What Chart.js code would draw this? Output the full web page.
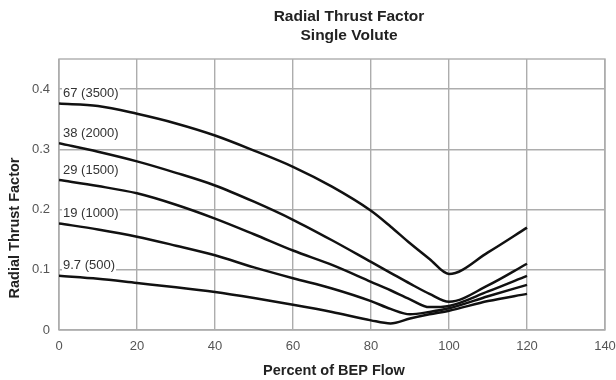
<!DOCTYPE html>
<html>
<head>
<meta charset="utf-8">
<script src="https://cdn.jsdelivr.net/npm/chart.js@4"></script>
<style>
  html, body { margin: 0; padding: 0; background: #fff; }
  #wrap { width: 616px; height: 380px; }
</style>
</head>
<body>
<div id="wrap"><canvas id="thrust-chart" width="616" height="380"></canvas></div>
<script>
// Radial thrust factor vs percent of BEP flow, single volute
const flowPct = [0, 10, 20, 30, 40, 50, 60, 70, 80, 85, 90, 95, 100, 110, 120];
const curveLabels = ['67 (3500)', '38 (2000)', '29 (1500)', '19 (1000)', '9.7 (500)'];
const thrust67 = [0.376, 0.372, 0.359, 0.343, 0.323, 0.298, 0.271, 0.238, 0.198, 0.172, 0.144, 0.118, 0.093, 0.129, 0.170];
const thrust38 = [0.310, 0.296, 0.280, 0.261, 0.240, 0.213, 0.183, 0.149, 0.113, 0.095, 0.077, 0.060, 0.047, 0.074, 0.110];
const thrust29 = [0.249, 0.239, 0.227, 0.208, 0.185, 0.159, 0.132, 0.108, 0.080, 0.066, 0.051, 0.038, 0.040, 0.064, 0.090];
const thrust19 = [0.177, 0.167, 0.155, 0.140, 0.124, 0.104, 0.086, 0.069, 0.048, 0.035, 0.026, 0.030, 0.036, 0.056, 0.075];
const thrust9_7 = [0.090, 0.085, 0.078, 0.071, 0.063, 0.053, 0.042, 0.030, 0.016, 0.011, 0.019, 0.026, 0.032, 0.048, 0.060];
const xTicks = [0, 20, 40, 60, 80, 100, 120, 140];
const yTicks = [0, 0.1, 0.2, 0.3, 0.4];

const FONT = "'Liberation Sans', Arial, sans-serif";
const GRID = '#adadad';

function toPoints(values) {
    return flowPct.map((x, i) => ({ x: x, y: values[i] }));
}

// plot frame, curve labels, titles
const decorations = {
    id: 'decorations',
    beforeDatasetsDraw(chart) {
        const ctx = chart.ctx;
        const a = chart.chartArea;
        ctx.save();
        ctx.strokeStyle = GRID;
        ctx.lineWidth = 1.4;
        ctx.strokeRect(a.left, a.top, a.right - a.left, a.bottom - a.top);
        ctx.restore();
    },
    afterDraw(chart) {
        const ctx = chart.ctx;
        ctx.save();

        // labels above the start of each curve
        ctx.font = '13px ' + FONT;
        ctx.textBaseline = 'middle';
        ctx.textAlign = 'left';
        chart.data.datasets.forEach((ds, i) => {
            const p = chart.getDatasetMeta(i).data[0];
            const tx = p.x + 4;
            const ty = p.y - 10;
            const w = ctx.measureText(ds.label).width;
            ctx.fillStyle = '#fff';
            ctx.fillRect(tx - 1, ty - 6, w + 2, 12);
            ctx.fillStyle = '#333';
            ctx.fillText(ds.label, tx, ty);
        });

        // chart title
        ctx.fillStyle = '#222';
        ctx.textAlign = 'center';
        ctx.font = 'bold 15.5px ' + FONT;
        ctx.fillText('Radial Thrust Factor', 349, 17);
        ctx.fillText('Single Volute', 349, 36);

        // axis titles
        ctx.font = 'bold 14.5px ' + FONT;
        ctx.fillText('Percent of BEP Flow', 334, 371);
        ctx.translate(15, 228);
        ctx.rotate(-Math.PI / 2);
        ctx.fillText('Radial Thrust Factor', 0, 0);

        ctx.restore();
    }
};

const ctx = document.getElementById('thrust-chart').getContext('2d');
const seriesValues = [thrust67, thrust38, thrust29, thrust19, thrust9_7];

new Chart(ctx, {
    type: 'line',
    data: {
        datasets: seriesValues.map((vals, i) => ({
            label: curveLabels[i],
            data: toPoints(vals),
            borderColor: '#111',
            borderWidth: 2.5,
            pointRadius: 0,
            fill: false,
            cubicInterpolationMode: 'monotone'
        }))
    },
    options: {
        responsive: false,
        animation: false,
        layout: {
            padding: { top: 59, right: 11, left: 0, bottom: 0 }
        },
        scales: {
            x: {
                type: 'linear',
                min: 0,
                max: 140,
                afterFit: s => { s.height = 50; s.paddingRight = 0; s.paddingLeft = 0; },
                afterBuildTicks: s => { s.ticks = xTicks.map(v => ({ value: v })); },
                border: { display: false },
                grid: { color: GRID, lineWidth: 1.4, drawTicks: false },
                ticks: {
                    padding: 9,
                    color: '#555',
                    font: { family: FONT, size: 13 }
                }
            },
            y: {
                min: 0,
                max: 0.45,
                afterFit: s => { s.width = 59; s.paddingTop = 0; s.paddingBottom = 0; },
                afterBuildTicks: s => { s.ticks = yTicks.map(v => ({ value: v })); },
                border: { display: false },
                grid: { color: GRID, lineWidth: 1.4, drawTicks: false },
                ticks: {
                    padding: 9,
                    color: '#555',
                    font: { family: FONT, size: 13 },
                    callback: v => String(Math.round(v * 10) / 10)
                }
            }
        },
        plugins: {
            legend: { display: false },
            title: { display: false },
            tooltip: { enabled: false }
        }
    },
    plugins: [decorations]
});
</script>
</body>
</html>
